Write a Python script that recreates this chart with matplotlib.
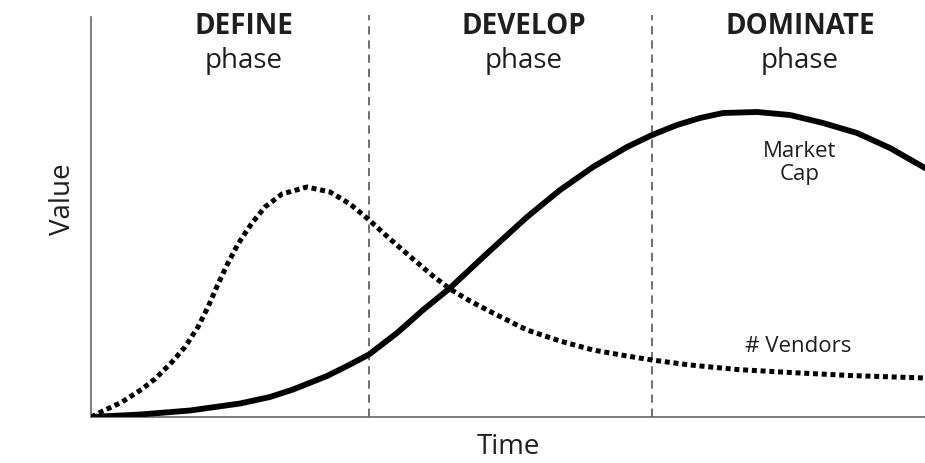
import matplotlib
matplotlib.use("Agg")
from matplotlib import pyplot as plt

plt.rcParams["font.family"] = ["Open Sans", "DejaVu Sans"]

# curves (time 0-100, value 0-100)
market_t = [0, 5.88, 11.87, 17.87, 21.46, 24.22, 28.30, 30.94, 33.33, 36.69, 39.81,
            43.05, 46.64, 48.20, 52.28, 56.24, 60.19, 64.27, 67.27, 70.26, 73.02,
            75.78, 79.86, 83.81, 87.77, 91.85, 95.80, 100]
market_v = [0, 0.625, 1.625, 3.375, 5.0, 6.875, 10.25, 13.0, 15.625, 21.0, 26.75,
            32.25, 39.25, 42.25, 50.0, 56.75, 62.5, 67.5, 70.5, 73.0, 74.75,
            76.0, 76.25, 75.5, 73.5, 71.0, 67.25, 62.25]

vendors_t = [0, 1.44, 3.72, 6.12, 7.67, 8.87, 9.71, 11.27, 12.83, 14.03, 15.23,
             16.43, 17.63, 19.30, 20.86, 22.90, 25.90, 28.66, 31.06, 33.21, 35.85,
             38.61, 41.01, 43.05, 45.44, 48.20, 52.28, 56.24, 60.19, 64.27, 67.27,
             71.82, 77.46, 83.81, 91.01, 100]
vendors_v = [0, 1.5, 3.75, 7.0, 9.5, 12.0, 13.75, 17.5, 22.5, 27.5, 33.25,
             38.5, 43.25, 48.5, 52.5, 55.75, 57.5, 56.25, 53.25, 49.5, 44.5,
             39.5, 35.25, 32.0, 29.0, 26.0, 21.75, 19.0, 16.75, 15.25, 14.25,
             13.0, 11.875, 11.125, 10.375, 9.75]

phase_edges = [33.3, 67.3]
phase_names = ["DEFINE", "DEVELOP", "DOMINATE"]
phase_centers = [18.3, 51.9, 85.0]

text_color = "#1e1e1e"

fig = plt.figure(figsize=(9.25, 4.63), dpi=100)
ax = fig.add_axes([91 / 925, 1 - 417 / 463, 1 - 91 / 925, 400 / 463])

ax.plot(market_t, market_v, color="black", lw=4.2, solid_joinstyle="round",
        solid_capstyle="round", zorder=3)
ax.plot(vendors_t, vendors_v, color="black", lw=3.6, linestyle=(0, (1, 0.75)),
        dash_capstyle="butt", zorder=3)

for edge in phase_edges:
    ax.axvline(edge, ymin=0, ymax=1.005, color="#555555", lw=1.2,
               linestyle=(0, (5, 3.5)), clip_on=False, zorder=1)

for name, cx in zip(phase_names, phase_centers):
    ax.text(cx, 97.5, name, ha="center", va="center", fontsize=20,
            fontweight="bold", color=text_color)
    ax.text(cx, 89.0, "phase", ha="center", va="center", fontsize=20,
            color=text_color)

ax.text(85.0, 63.5, "Market\nCap", ha="center", va="center", fontsize=16,
        linespacing=1.1, color=text_color)
ax.text(84.8, 17.5, "# Vendors", ha="center", va="center", fontsize=16,
        color=text_color)

ax.set_xlim(0, 100)
ax.set_ylim(0, 100)
ax.set_xticks([])
ax.set_yticks([])
for side in ["top", "right"]:
    ax.spines[side].set_visible(False)
for side in ["left", "bottom"]:
    ax.spines[side].set_color("#666666")
    ax.spines[side].set_linewidth(1.2)

fig.text(63 / 925, 1 - 199 / 463, "Value", rotation=90, ha="center", va="center",
         fontsize=20, color=text_color)
fig.text(508 / 925, 1 - 447 / 463, "Time", ha="center", va="center",
         fontsize=20, color=text_color)

fig.savefig("out.png", dpi=100)
